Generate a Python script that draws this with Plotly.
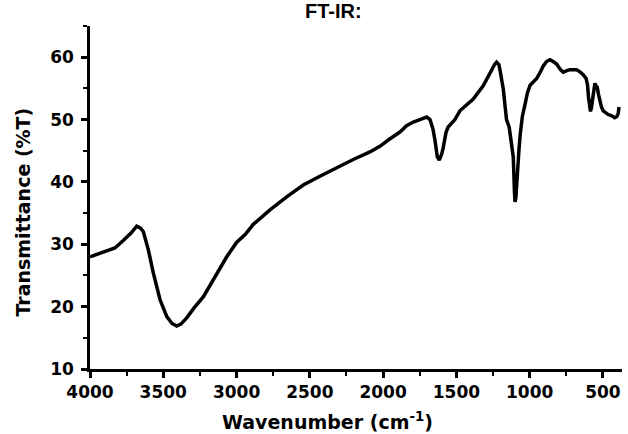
import plotly.graph_objects as go

wavenumber = [4000, 3950, 3886, 3830, 3773, 3720, 3681, 3655, 3636, 3602, 3568, 3522, 3476, 3440,
              3408, 3380, 3340, 3290, 3226, 3180, 3135, 3067, 3000, 2940, 2886, 2772, 2658, 2545,
              2431, 2317, 2204, 2090, 2022, 1960, 1931, 1885, 1840, 1794, 1749, 1703, 1680, 1660,
              1647, 1630, 1617, 1600, 1590, 1570, 1556, 1510, 1476, 1430, 1385, 1317, 1271, 1240,
              1226, 1210, 1203, 1190, 1180, 1165, 1158, 1140, 1125, 1112, 1104, 1100, 1094, 1085,
              1075, 1065, 1050, 1031, 1015, 997, 975, 952, 930, 907, 885, 862, 840, 816, 790, 771,
              750, 726, 700, 680, 655, 635, 615, 605, 598, 592, 585, 578, 570, 563, 555, 547, 539,
              530, 521, 510, 498, 480, 464, 440, 420, 405, 396, 390]
transmittance = [28.0, 28.4, 29.0, 29.4, 30.6, 31.8, 32.9, 32.6, 32.0, 29.1, 25.4, 21.1, 18.4, 17.3,
                 16.9, 17.2, 18.2, 19.8, 21.6, 23.5, 25.4, 28.0, 30.3, 31.6, 33.2, 35.5, 37.6, 39.5,
                 40.9, 42.3, 43.6, 44.8, 45.7, 46.8, 47.3, 48.0, 49.0, 49.6, 50.0, 50.4, 50.0, 48.5,
                 46.8, 44.0, 43.5, 44.5, 45.5, 48.0, 48.8, 50.0, 51.4, 52.3, 53.3, 55.4, 57.5, 58.8,
                 59.2, 58.8, 58.0, 56.5, 54.9, 51.5, 50.0, 48.8, 46.5, 44.0, 38.5, 36.8, 37.5, 41.5,
                 44.5, 47.5, 50.5, 52.5, 54.3, 55.5, 56.0, 56.6, 57.5, 58.6, 59.3, 59.6, 59.3, 58.9,
                 58.0, 57.6, 57.8, 58.0, 58.0, 58.0, 57.6, 57.2, 56.6, 55.5, 53.5, 52.2, 51.3, 52.0,
                 53.5, 55.0, 55.8, 55.4, 55.2, 54.0, 53.0, 52.0, 51.4, 51.0, 50.8, 50.6, 50.3, 50.5,
                 51.0, 52.0]

x_ticks = [4000, 3500, 3000, 2500, 2000, 1500, 1000, 500]
y_ticks = [10, 20, 30, 40, 50, 60]

tick_font = dict(family="DejaVu Sans", size=17, color="black", weight="bold")
title_font = dict(family="DejaVu Sans", size=19, color="black", weight="bold")

fig = go.Figure()
fig.add_trace(go.Scatter(x=wavenumber, y=transmittance, mode="lines",
                         line=dict(color="black", width=3.5), showlegend=False))

fig.update_layout(
    width=628, height=434,
    margin=dict(l=90, r=6, t=26, b=65),
    paper_bgcolor="white", plot_bgcolor="white",
    xaxis=dict(range=[4000, 370], tickvals=x_ticks, ticks="outside", ticklen=6, tickwidth=2.5,
               tickcolor="black", showline=True, linecolor="black", linewidth=2.5,
               showgrid=False, zeroline=False, tickfont=tick_font, ticklabelstandoff=0,
               minor=dict(dtick=250, tick0=0, ticks="outside", ticklen=4, tickwidth=2,
                          tickcolor="black", showgrid=False)),
    yaxis=dict(range=[10, 65], tickvals=y_ticks, ticks="outside", ticklen=6, tickwidth=2.5,
               tickcolor="black", showline=True, linecolor="black", linewidth=2.5,
               showgrid=False, zeroline=False, tickfont=tick_font, ticklabelstandoff=4,
               minor=dict(dtick=5, tick0=0, ticks="outside", ticklen=4, tickwidth=2,
                          tickcolor="black", showgrid=False)),
    annotations=[
        dict(text="FT-IR:", xref="paper", yref="paper", x=0.457, y=1.0 + 15 / 343,
             xanchor="center", yanchor="middle", showarrow=False,
             font=dict(family="Liberation Sans", size=20, color="black", weight="bold")),
        dict(text="Wavenumber (cm<sup>-1</sup>)", xref="paper", yref="paper", x=0.447,
             y=-52 / 343, xanchor="center", yanchor="middle", showarrow=False,
             font=title_font),
        dict(text="Transmittance (%T)", xref="paper", yref="paper", x=-67 / 532,
             y=0.456, xanchor="center", yanchor="middle", showarrow=False, textangle=-90,
             font=title_font),
    ],
)

fig.write_html("out.html")
